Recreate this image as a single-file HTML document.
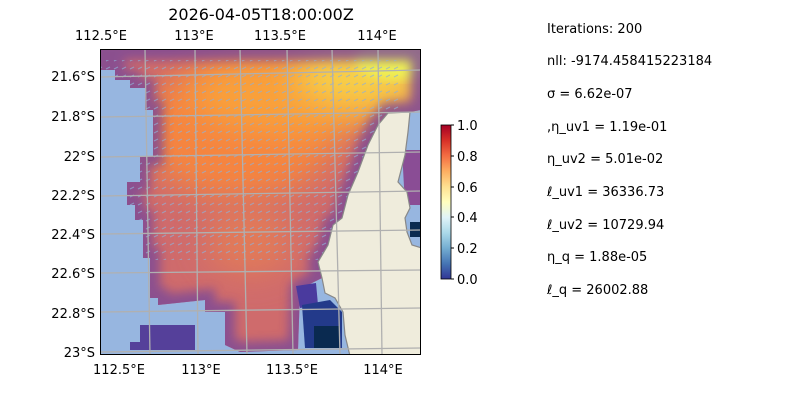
<!DOCTYPE html>
<html><head><meta charset="utf-8"><style>
body{margin:0;background:#fff;width:800px;height:400px;overflow:hidden;font-family:"Liberation Sans","DejaVu Sans",sans-serif;}
</style></head><body>
<svg width="800" height="400" viewBox="0 0 800 400" xmlns="http://www.w3.org/2000/svg" font-family="DejaVu Sans, Liberation Sans, sans-serif">
<defs>
<clipPath id="map"><rect x="101" y="49" width="320" height="306"/></clipPath>
<clipPath id="data"><path id="dp" d="M101,50 L421,50 L421,110 L410,112 L388,113 L378,125 L368,145 L358,172 L348,195 L342,218 L333,225 L328,245 L318,262 L322,278 L310,284 L300,290 L298,350 L240,352 L225,345 L225,312 L205,312 L205,300 L158,305 L158,298 L150,298 L150,258 L143,258 L143,220 L135,220 L135,205 L127,205 L127,182 L140,182 L140,156 L153,156 L153,110 L145,110 L145,88 L130,88 L130,80 L115,80 L115,70 L101,70 Z"/></clipPath>
<filter id="bl" x="-50%" y="-50%" width="200%" height="200%"><feGaussianBlur stdDeviation="16"/></filter>
<filter id="bl2"><feGaussianBlur stdDeviation="5"/></filter>
<linearGradient id="cb" x1="0" y1="1" x2="0" y2="0">
<stop offset="0" stop-color="#313695"/><stop offset="0.1" stop-color="#4575b4"/><stop offset="0.2" stop-color="#74add1"/><stop offset="0.3" stop-color="#abd9e9"/><stop offset="0.4" stop-color="#e0f3f8"/><stop offset="0.5" stop-color="#ffffbf"/><stop offset="0.6" stop-color="#fee090"/><stop offset="0.7" stop-color="#fdae61"/><stop offset="0.8" stop-color="#f46d43"/><stop offset="0.9" stop-color="#d73027"/><stop offset="1" stop-color="#a50026"/>
</linearGradient>
<pattern id="q" width="8" height="8" patternUnits="userSpaceOnUse"><line x1="2" y1="5" x2="6" y2="3" stroke="#8fb0d8" stroke-width="1"/></pattern>
</defs>
<g clip-path="url(#map)">
<rect x="101" y="49" width="320" height="306" fill="#97b6e0"/>
<g clip-path="url(#data)">
<rect x="100" y="48" width="322" height="308" fill="#cf6b6c"/>
<ellipse cx="240" cy="130" rx="100" ry="70" fill="#f5853f" filter="url(#bl)"/>
<ellipse cx="300" cy="95" rx="110" ry="40" fill="#f9a03a" filter="url(#bl)"/>
<ellipse cx="365" cy="75" rx="70" ry="30" fill="#f7d048" filter="url(#bl)"/>
<ellipse cx="395" cy="60" rx="40" ry="20" fill="#eef055" filter="url(#bl2)"/>
<ellipse cx="250" cy="240" rx="45" ry="35" fill="#e27a58" filter="url(#bl)"/>
<use href="#dp" fill="none" stroke="#7a4898" stroke-width="20" opacity="0.8" filter="url(#bl2)"/>
<rect x="100" y="60" width="300" height="200" fill="url(#q)" opacity="0.7"/>
</g>
<path d="M402,150 L421,150 L421,205 L405,205 Z" fill="#8a4d95"/>
<rect x="140" y="325" width="55" height="25" fill="#55409a"/>
<rect x="130" y="342" width="20" height="8" fill="#55409a"/>
<path d="M296,286 L316,283 L318,305 L300,308 Z" fill="#4a3a9e"/>
<path d="M302,305 L330,300 L342,312 L342,348 L305,348 Z" fill="#233a8a"/>
<rect x="314" y="326" width="26" height="22" fill="#0a2a50"/>
<rect x="410" y="222" width="10" height="15" fill="#0a2a50"/>
<path d="M410,112 L388,113 L378,125 L368,145 L358,172 L348,195 L342,218 L333,225 L328,245 L318,262 L322,278 L325,293 L335,298 L343,312 L345,335 L350,356 L422,356 L422,248 L412,245 L407,232 L405,218 L410,208 L407,192 L398,182 L405,155 L408,132 Z" fill="#efecdc" stroke="#888" stroke-width="1.2"/>
<g stroke="#b0b0b0" stroke-width="1.3" fill="none">
<line x1="145" y1="49" x2="150" y2="355"/><line x1="195" y1="49" x2="198" y2="355"/><line x1="240" y1="49" x2="247" y2="355"/><line x1="287" y1="49" x2="293" y2="355"/><line x1="332" y1="49" x2="340" y2="355"/><line x1="378" y1="49" x2="382" y2="355"/>
<line x1="101" y1="77" x2="421" y2="70"/><line x1="101" y1="117" x2="421" y2="112"/><line x1="101" y1="157" x2="421" y2="152"/><line x1="101" y1="196" x2="421" y2="191"/><line x1="101" y1="234" x2="421" y2="230"/><line x1="101" y1="273" x2="421" y2="270"/><line x1="101" y1="312" x2="421" y2="308"/><line x1="101" y1="352" x2="421" y2="348"/>
</g>
</g>
<rect x="100.5" y="49.5" width="320" height="305" fill="none" stroke="#000" stroke-width="1"/>
<text x="261" y="20" font-size="16" text-anchor="middle">2026-04-05T18:00:00Z</text>
<g font-size="13" fill="#000">
<text x="101" y="40" text-anchor="middle">112.5°E</text><text x="194" y="40" text-anchor="middle">113°E</text><text x="280" y="40" text-anchor="middle">113.5°E</text><text x="377" y="40" text-anchor="middle">114°E</text>
<text x="119" y="374" text-anchor="middle">112.5°E</text><text x="201" y="374" text-anchor="middle">113°E</text><text x="292" y="374" text-anchor="middle">113.5°E</text><text x="383" y="374" text-anchor="middle">114°E</text>
<g text-anchor="end"><text x="95" y="81">21.6°S</text><text x="95" y="121">21.8°S</text><text x="95" y="161">22°S</text><text x="95" y="200">22.2°S</text><text x="95" y="239">22.4°S</text><text x="95" y="278">22.6°S</text><text x="95" y="318">22.8°S</text><text x="95" y="357">23°S</text></g>
</g>
<rect x="441" y="125" width="10" height="154" fill="url(#cb)" stroke="#000" stroke-width="0.8"/>
<g font-size="13" stroke="#000">
<line x1="451" y1="125" x2="454" y2="125"/><line x1="451" y1="156" x2="454" y2="156"/><line x1="451" y1="187" x2="454" y2="187"/><line x1="451" y1="217" x2="454" y2="217"/><line x1="451" y1="248" x2="454" y2="248"/><line x1="451" y1="279" x2="454" y2="279"/>
</g>
<g font-size="13"><text x="457" y="130">1.0</text><text x="457" y="161">0.8</text><text x="457" y="192">0.6</text><text x="457" y="222">0.4</text><text x="457" y="253">0.2</text><text x="457" y="284">0.0</text></g>
<g font-size="13">
<text x="547" y="33">Iterations: 200</text>
<text x="547" y="65">nll: -9174.458415223184</text>
<text x="547" y="98">σ = 6.62e-07</text>
<text x="547" y="131">,η_uv1 = 1.19e-01</text>
<text x="547" y="163">η_uv2 = 5.01e-02</text>
<text x="547" y="196">ℓ_uv1 = 36336.73</text>
<text x="547" y="229">ℓ_uv2 = 10729.94</text>
<text x="547" y="261">η_q = 1.88e-05</text>
<text x="547" y="294">ℓ_q = 26002.88</text>
</g>
</svg>
</body></html>
